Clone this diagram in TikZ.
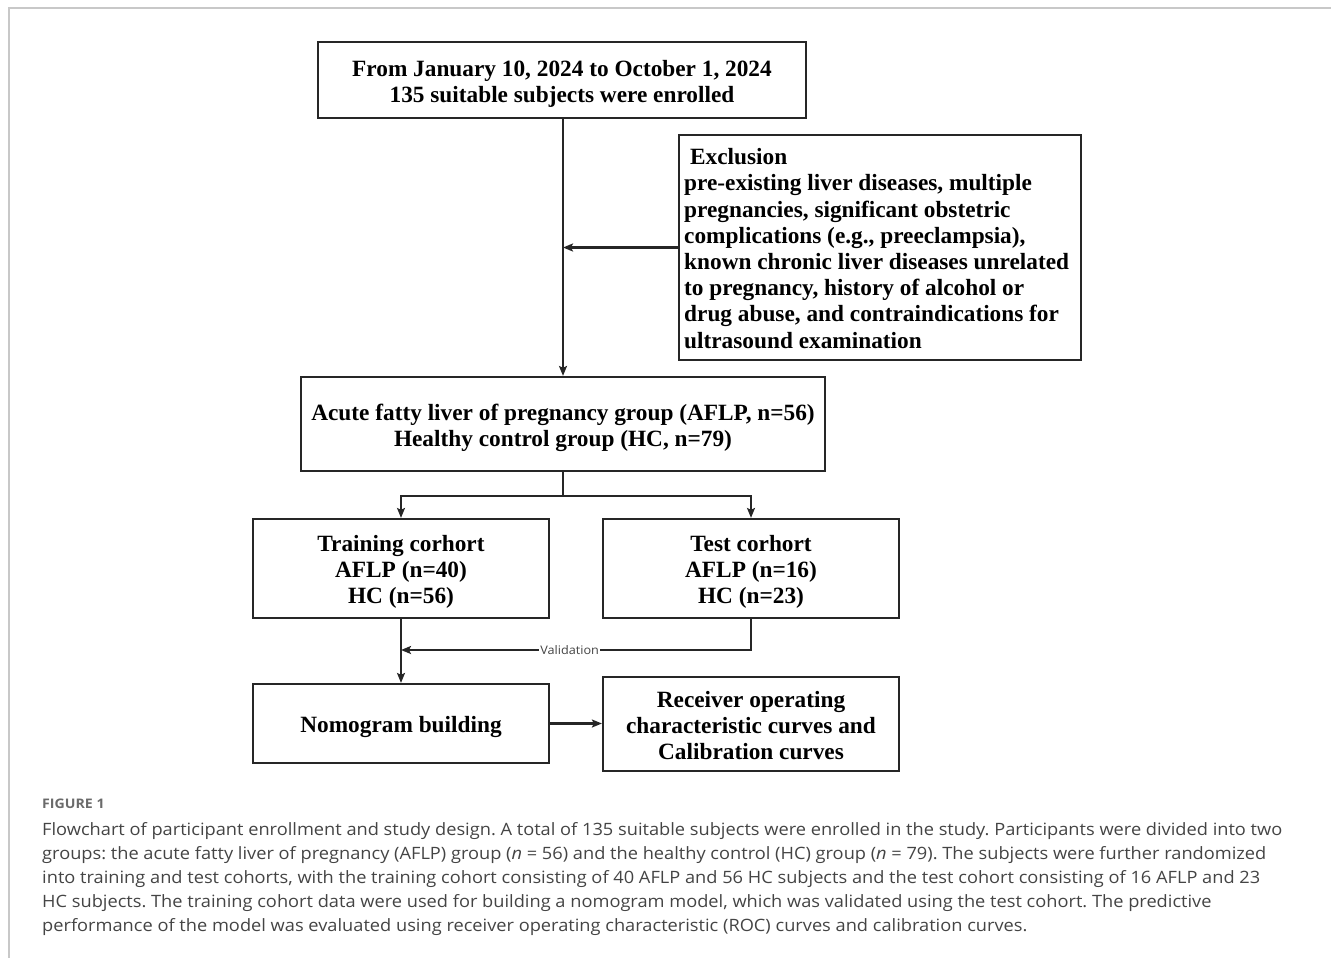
\documentclass[tikz,border=0pt]{standalone}
\usepackage{fontspec}
\setmainfont{Liberation Serif}
\newfontfamily\capfont[FakeStretch=1.072]{Open Sans}
\usetikzlibrary{arrows.meta}
\definecolor{boxline}{HTML}{262626}
\definecolor{frameline}{HTML}{C8C8C8}
\definecolor{captxt}{HTML}{444444}
\definecolor{figlab}{HTML}{6A6A6A}
\tikzset{
  flowbox/.style={draw=boxline, line width=2.2pt, inner sep=0pt},
  flowtext/.style={inner sep=0pt, align=center, yshift=-3.5pt,
    font=\fontsize{23.3}{26}\selectfont\bfseries, text=black},
  arr/.style={draw=boxline, line width=2.2pt, -{Stealth[length=10pt,width=8pt,inset=2pt]}},
  capline/.style={anchor=base west, inner sep=0pt, text=captxt, font=\capfont\fontsize{17}{24}\selectfont},
}
\begin{document}
\frenchspacing
\begin{tikzpicture}[x=1pt,y=-1pt]
\useasboundingbox (0,0) rectangle (1331,958);
% frame
\draw[frameline, line width=1.5pt] (9,958) -- (9,8) -- (1331,8);

\node[flowbox, minimum width=488pt, minimum height=76pt] (top) at (562,80) {};
\node[flowtext] (toptext) at (top)
  {From January 10, 2024 to October 1, 2024\\135 suitable subjects were enrolled};

\node[flowbox, minimum width=402pt, minimum height=225pt] (excl) at (880,247.5) {};
\node[anchor=west, inner sep=0pt, align=left, font=\fontsize{23.3}{26.2}\selectfont\bfseries] (excltext) at (684,248.5)
  {\hspace{6pt}Exclusion\\
   pre-existing liver diseases, multiple\\
   pregnancies, significant obstetric\\
   complications (e.g., preeclampsia),\\
   known chronic liver diseases unrelated\\
   to pregnancy, history of alcohol or\\
   drug abuse, and contraindications for\\
   ultrasound examination};

\node[flowbox, minimum width=524pt, minimum height=94pt] (group) at (563,424) {};
\node[flowtext] (grouptext) at (group)
  {Acute fatty liver of pregnancy group (AFLP, n=56)\\Healthy control group (HC, n=79)};

\node[flowbox, minimum width=296pt, minimum height=99pt] (train) at (401,568.5) {};
\node[flowtext] (traintext) at (train) {Training corhort\\AFLP (n=40)\\HC (n=56)};
\node[flowbox, minimum width=296pt, minimum height=99pt] (test) at (751,568.5) {};
\node[flowtext] (testtext) at (test) {Test corhort\\AFLP (n=16)\\HC (n=23)};

\node[flowbox, minimum width=296pt, minimum height=79pt] (nomo) at (401,723.5) {};
\node[flowtext] (nomotext) at (nomo) {Nomogram building};
\node[flowbox, minimum width=296pt, minimum height=94pt] (roc) at (751,724) {};
\node[flowtext, yshift=1.5pt] (roctext) at (roc) {Receiver operating\\characteristic curves and\\Calibration curves};

% connectors
\draw[arr] (group.north |- top.south) -- (group.north);
\draw[arr] (excl.west) -- (excl.west -| group.north);
\coordinate (split) at (563,496);
\draw[arr] (group.south) |- (train.north |- split) -- (train.north);
\draw[arr] (group.south) |- (test.north |- split) -- (test.north);
\coordinate (valy) at (0,650);
\draw[arr] (test.south) |- node[pos=0.759, fill=white, inner sep=1pt, text=captxt, font=\capfont\fontsize{11.8}{14}\selectfont] (vallab) {Validation} (train.south |- valy);
\draw[arr] (train.south) -- (nomo.north);
\draw[arr] (nomo.east) -- (nomo.east -| roc.west);

% caption
\node[anchor=base west, inner sep=0pt, text=figlab, font=\capfont\bfseries\fontsize{13.2}{15}\selectfont] (figl) at (42,808) {FIGURE 1};
\node[capline] (c1) at (42,835) {Flowchart of participant enrollment and study design. A total of 135 suitable subjects were enrolled in the study. Participants were divided into two};
\node[capline] (c2) at (42,859) {groups: the acute fatty liver of pregnancy (AFLP) group (\textit{n} = 56) and the healthy control (HC) group (\textit{n} = 79). The subjects were further randomized};
\node[capline] (c3) at (42,883) {into training and test cohorts, with the training cohort consisting of 40 AFLP and 56 HC subjects and the test cohort consisting of 16 AFLP and 23};
\node[capline] (c4) at (42,907) {HC subjects. The training cohort data were used for building a nomogram model, which was validated using the test cohort. The predictive};
\node[capline] (c5) at (42,931) {performance of the model was evaluated using receiver operating characteristic (ROC) curves and calibration curves.};
\end{tikzpicture}
\end{document}
